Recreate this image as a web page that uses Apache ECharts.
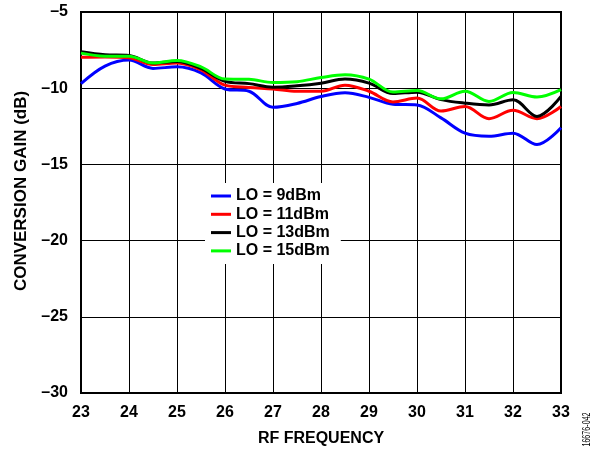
<!DOCTYPE html>
<html>
<head>
<meta charset="utf-8">
<script src="https://cdn.jsdelivr.net/npm/echarts@6/dist/echarts.min.js"></script>
<style>
html,body{margin:0;padding:0;background:#fff;}
#c{width:602px;height:452px;}
</style>
</head>
<body>
<div id="c"></div>
<script>
var freq = [23, 23.5, 24, 24.5, 25, 25.5, 26, 26.5, 27, 27.5, 28, 28.5, 29, 29.5, 30, 30.5, 31, 31.5, 32, 32.5, 33];
var lo9  = [-9.7, -8.55, -8.15, -8.7, -8.6, -9.0, -10.05, -10.2, -11.25, -11.0, -10.55, -10.3, -10.6, -11.05, -11.1, -11.95, -12.95, -13.15, -12.95, -13.7, -12.6];
var lo11 = [-7.97, -7.95, -8.0, -8.45, -8.35, -8.8, -9.8, -9.95, -10.05, -10.2, -10.2, -9.8, -10.2, -10.9, -10.65, -11.5, -11.2, -12.0, -11.45, -12.0, -11.2];
var lo13 = [-7.6, -7.8, -7.85, -8.35, -8.25, -8.7, -9.55, -9.7, -9.93, -9.84, -9.67, -9.4, -9.67, -10.35, -10.26, -10.75, -10.98, -11.1, -10.76, -11.85, -10.54];
var lo15 = [-7.7, -7.9, -7.9, -8.35, -8.18, -8.6, -9.4, -9.42, -9.62, -9.57, -9.3, -9.12, -9.41, -10.25, -10.15, -10.7, -10.2, -10.87, -10.28, -10.58, -10.1];
var seriesNames = ['LO = 9dBm', 'LO = 11dBm', 'LO = 13dBm', 'LO = 15dBm'];
var seriesColors = ['#0000ff', '#ff0000', '#000000', '#00ff00'];
var seriesData = [lo9, lo11, lo13, lo15];
var xTitle = 'RF FREQUENCY';
var yTitle = 'CONVERSION GAIN (dB)';
var figNote = '16676-042';

function pairs(ys) { return freq.map(function (f, i) { return [f, ys[i]]; }); }
var FONT = '"Liberation Sans", Arial, sans-serif';

var chart = echarts.init(document.getElementById('c'), null, {renderer: 'canvas'});
chart.setOption({
  animation: false,
  backgroundColor: '#fff',
  grid: {left: 81, right: 41, top: 12, bottom: 58, show: true, borderColor: '#000', borderWidth: 2, backgroundColor: 'transparent'},
  xAxis: {
    type: 'value', min: 23, max: 33, interval: 1,
    name: xTitle, nameLocation: 'middle', nameGap: 38,
    nameTextStyle: {fontFamily: FONT, fontWeight: 'bold', fontSize: 16, color: '#000'},
    axisLine: {show: true, lineStyle: {color: '#000', width: 2}},
    axisTick: {show: false},
    axisLabel: {fontFamily: FONT, fontWeight: 'bold', fontSize: 16, color: '#000', margin: 12},
    splitLine: {show: true, lineStyle: {color: '#000', width: 1}}
  },
  yAxis: {
    type: 'value', min: -30, max: -5, interval: 5,
    axisLine: {show: true, lineStyle: {color: '#000', width: 2}},
    axisTick: {show: false},
    axisLabel: {fontFamily: FONT, fontWeight: 'bold', fontSize: 16, color: '#000', margin: 13,
      formatter: function (v) { return String(v).replace('-', '\u2013'); }},
    splitLine: {show: true, lineStyle: {color: '#000', width: 1}}
  },
  legend: {
    orient: 'vertical', left: 205, top: 183,
    backgroundColor: '#fff', padding: [4, 11, 4, 6],
    itemWidth: 20, itemHeight: 3, itemGap: 0.3, icon: 'rect',
    textStyle: {fontFamily: FONT, fontWeight: 'bold', fontSize: 16, color: '#000', lineHeight: 18},
    data: seriesNames
  },
  series: seriesData.map(function (d, i) {
    return {
      name: seriesNames[i], type: 'line', data: pairs(d), smooth: 0.35,
      symbol: 'none', color: seriesColors[i],
      lineStyle: {color: seriesColors[i], width: 3}
    };
  }),
  graphic: [{
    type: 'text', x: 21.5, y: 191, rotation: Math.PI / 2,
    style: {text: yTitle, font: 'bold 17px "Liberation Sans", Arial, sans-serif', fill: '#000',
      textAlign: 'center', textVerticalAlign: 'middle'}
  }, {
    type: 'text', x: 587, y: 429.5, rotation: Math.PI / 2, scaleX: 0.65,
    style: {text: figNote, font: '11px "Liberation Sans", Arial, sans-serif', fill: '#000',
      textAlign: 'center', textVerticalAlign: 'middle'}
  }]
});
</script>
</body>
</html>
